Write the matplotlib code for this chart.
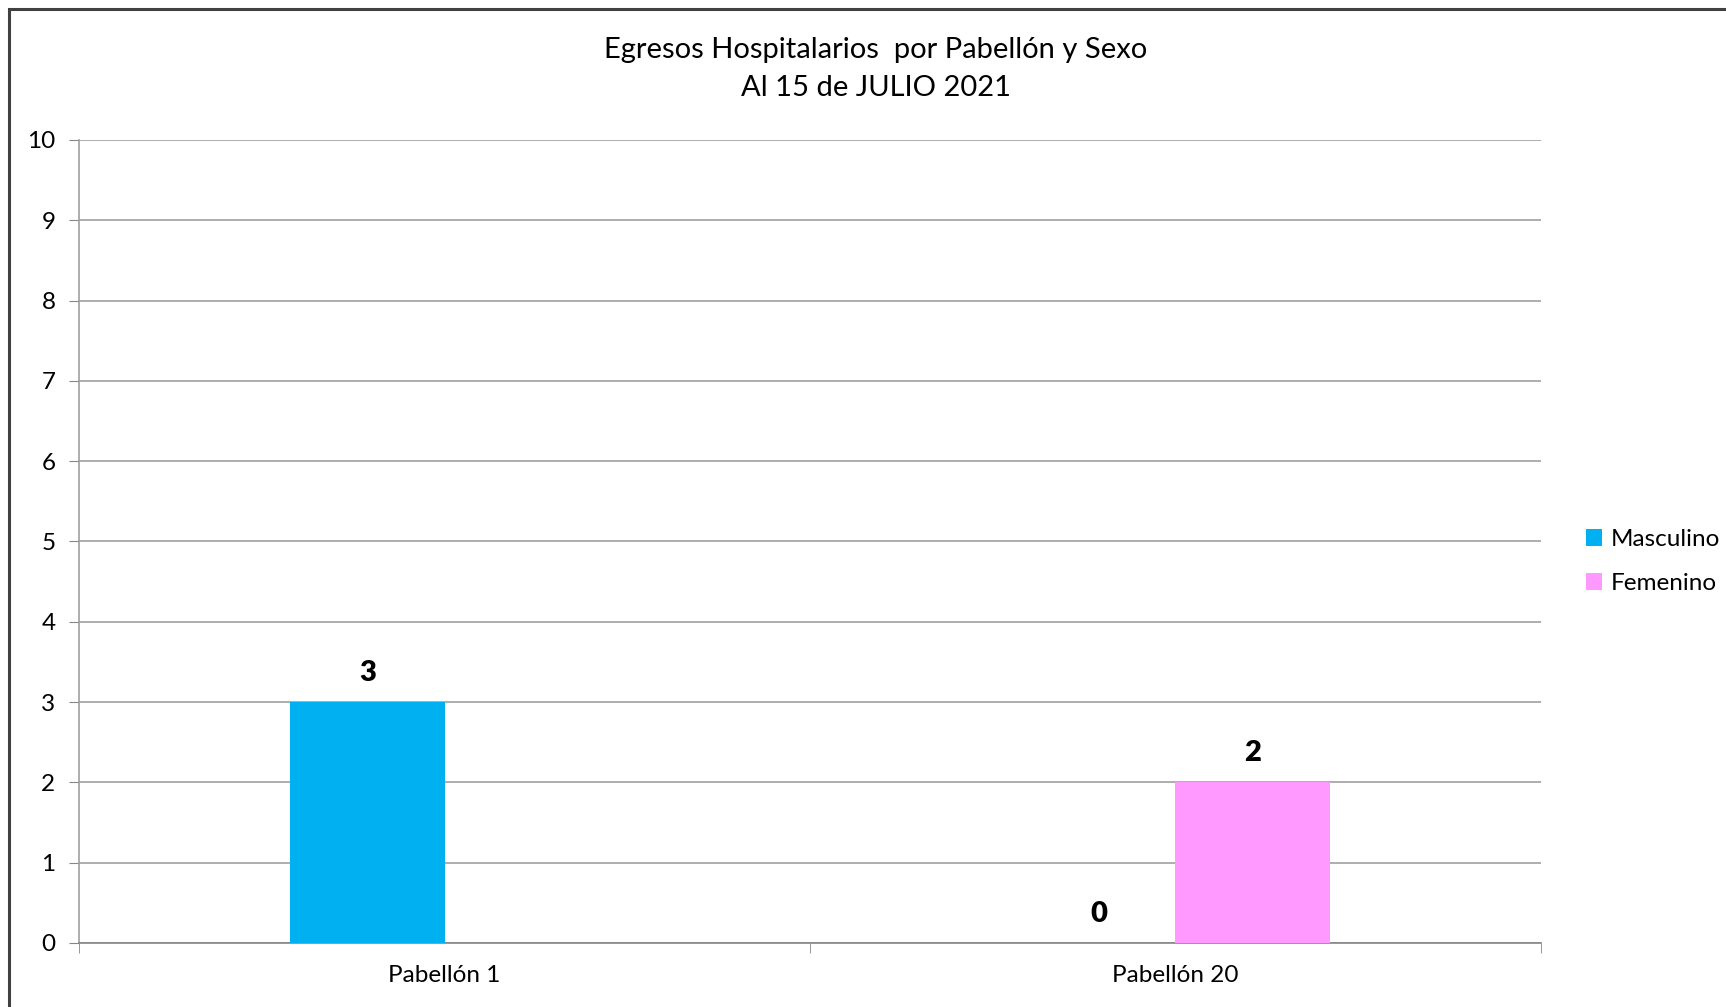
import matplotlib.pyplot as plt
import numpy as np
from matplotlib.patches import Rectangle

plt.rcParams["font.family"] = ["Lato", "DejaVu Sans"]

# Data
categories = ["Pabellón 1", "Pabellón 20"]
series_names = ["Masculino", "Femenino"]
masculino = [3, 0]
femenino = [np.nan, 2]
colors = ["#00B0F0", "#FF99FF"]

fig = plt.figure(figsize=(17.26, 10.07), dpi=100)
ax = fig.add_axes([0.0458, 0.0636, 0.8470, 0.7974])

# Frame around the chart area
fig.patches.append(Rectangle((9 / 1726, -0.05), 1.1, 1.05 - 9 / 1007,
                             transform=fig.transFigure, fill=False,
                             edgecolor="#404040", linewidth=2.2))

x = np.arange(len(categories))
width = 0.211

for i, (vals, name, col) in enumerate(zip([masculino, femenino], series_names, colors)):
    offset = (i - 0.5) * width
    ax.bar(x + offset, vals, width, color=col, label=name, zorder=3)
    for xi, v in zip(x + offset, vals):
        if np.isnan(v):
            continue
        ax.annotate(str(int(v)), (xi, v), xytext=(0, 21), textcoords="offset points",
                    ha="center", va="center", fontsize=21, fontweight="heavy")

ax.set_xlim(-0.5, 1.5)
ax.set_ylim(0, 10)
ax.set_yticks(range(0, 11))
ax.set_xticks(x)
ax.set_xticklabels(categories, fontsize=17.5)
ax.tick_params(axis="x", length=0, pad=16)
ax.tick_params(axis="y", labelsize=17.5, length=7, color="#868686", pad=10)

# category boundary ticks
ax.set_xticks([-0.5, 0.5, 1.5], minor=True)
ax.tick_params(axis="x", which="minor", length=7, color="#868686")

ax.grid(axis="y", color="#A0A0A0", linewidth=1.2, zorder=0)
for side in ["top", "right"]:
    ax.spines[side].set_visible(False)
ax.spines["left"].set_color("#A0A0A0")
ax.spines["bottom"].set_color("#868686")
ax.spines["left"].set_linewidth(1.2)
ax.spines["bottom"].set_linewidth(1.2)

fig.text(876 / 1726, 1 - 50 / 1007, "Egresos Hospitalarios  por Pabellón y Sexo",
         ha="center", va="center", fontsize=21)
fig.text(876 / 1726, 1 - 88 / 1007, "Al 15 de JULIO 2021",
         ha="center", va="center", fontsize=21)

ax.legend(loc="center left", bbox_to_anchor=(1.016, 0.475), frameon=False,
          fontsize=17.5, handlelength=0.65, handleheight=0.65, handletextpad=0.35,
          labelspacing=0.95)

fig.savefig("out.png", dpi=100)
